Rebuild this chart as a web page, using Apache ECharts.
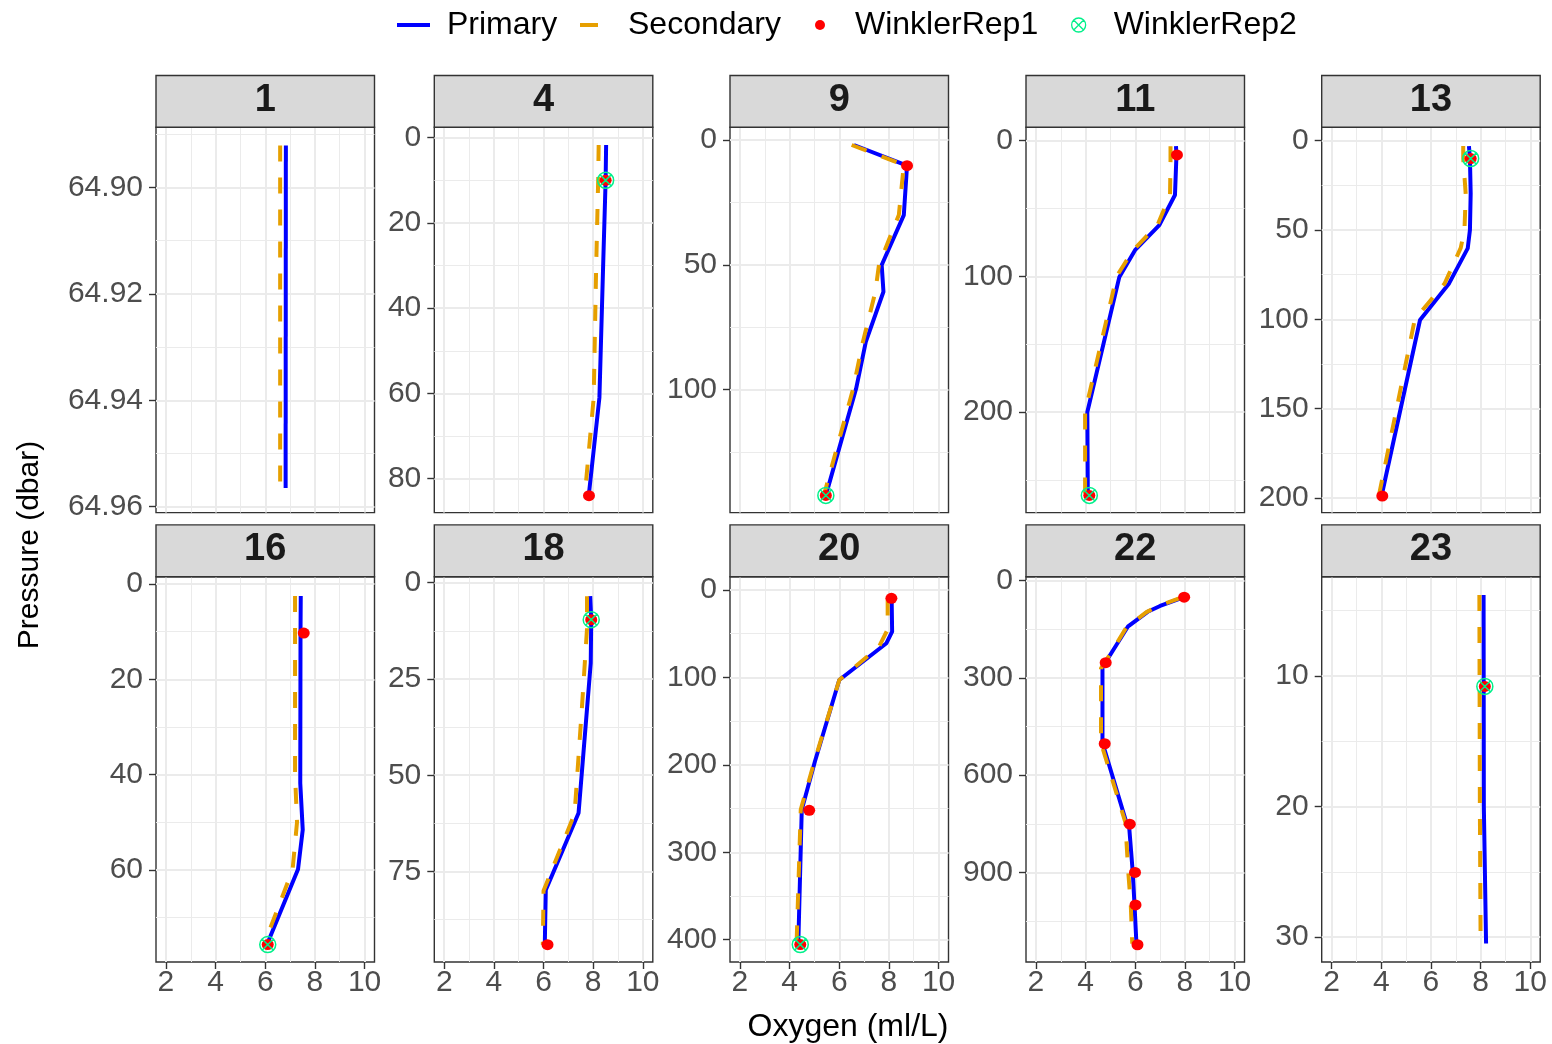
<!DOCTYPE html>
<html>
<head>
<meta charset="utf-8">
<title>Oxygen profiles by station</title>
<script src="https://cdn.jsdelivr.net/npm/echarts@6/dist/echarts.min.js"></script>
<style>
  html, body { margin: 0; padding: 0; background: #ffffff; }
  #chart { width: 1552px; height: 1044px; }
</style>
</head>
<body>
<div id="chart"></div>
<script>
// ---- data ---------------------------------------------------------------
// Station labels, one facet each (2 rows x 5 columns)
const stations = ['1', '4', '9', '11', '13', '16', '18', '20', '22', '23'];

// Oxygen (ml/L) axis, shared by every panel
const oxygenRange = [1.6, 10.4];
const oxygenTicks = [2, 4, 6, 8, 10];

// Pressure (dbar) axis extent and tick labels of each station (free scales, depth downwards)
const pressureRange = [
  [64.8887, 64.9611], [-2.44, 87.98], [-5.09, 149.3], [-9.9, 274.2], [-7.5, 208.2],
  [-1.53, 79.36], [-1.56, 98.5], [-15.2, 425.5], [-12.3, 1176.2], [2.4, 31.91]
];
const pressureTicks = [
  [64.90, 64.92, 64.94, 64.96], [0, 20, 40, 60, 80], [0, 50, 100], [0, 100, 200], [0, 50, 100, 150, 200],
  [0, 20, 40, 60], [0, 25, 50, 75], [0, 100, 200, 300, 400], [0, 300, 600, 900], [10, 20, 30]
];
const pressureTickDecimals = [2, 0, 0, 0, 0, 0, 0, 0, 0, 0];

// Primary sensor profiles: [oxygen, pressure]
const primaryProfiles = [
  [[6.83, 64.8921], [6.82, 64.9565]],
  [[8.52, 1.7], [8.50, 10], [8.40, 30], [8.25, 61], [7.82, 84]],
  [[6.59, 2.0], [8.73, 10.3], [8.60, 30.1], [7.71, 50.1], [7.78, 60.8], [7.07, 80.9], [6.68, 99.6], [5.46, 142.4]],
  [[7.64, 3.9], [7.66, 10.5], [7.60, 40], [6.97, 62.2], [5.99, 80.7], [5.36, 100.4], [4.07, 200], [4.09, 261.5]],
  [[7.53, 3.0], [7.57, 9.9], [7.60, 29.5], [7.57, 50], [7.48, 60.3], [6.73, 79.9], [5.56, 100.4], [4.01, 198.9]],
  [[7.43, 2.5], [7.42, 10.3], [7.41, 41.8], [7.51, 51.6], [7.32, 59.9], [6.07, 75.7]],
  [[7.88, 3.5], [7.92, 9.6], [7.90, 20.9], [7.41, 59.8], [6.09, 79.8], [6.05, 94]],
  [[8.11, 9.5], [8.13, 47.7], [7.90, 60.9], [6.00, 102.9], [5.02, 196.2], [4.49, 251.4], [4.35, 405.7]],
  [[7.97, 51], [7.00, 78], [6.50, 96], [5.70, 142], [4.90, 240], [4.68, 265], [4.68, 500], [5.62, 740], [5.75, 755], [5.90, 900], [5.97, 1000], [6.05, 1123]],
  [[8.12, 3.8], [8.13, 20], [8.22, 30.5]]
];

// Secondary sensor profiles: [oxygen, pressure]
const secondaryProfiles = [
  [[6.60, 64.8921], [6.60, 64.9565]],
  [[8.22, 1.7], [8.20, 10], [8.12, 30], [8.02, 61], [7.66, 84]],
  [[6.50, 2.0], [8.60, 10], [8.40, 30], [7.60, 50], [7.45, 61], [6.95, 81], [6.55, 100], [5.38, 142.4]],
  [[7.42, 4], [7.42, 15], [7.40, 40], [6.90, 62], [5.90, 81], [5.25, 100], [3.98, 200], [3.98, 261.5]],
  [[7.30, 3], [7.30, 10], [7.40, 30], [7.35, 50], [7.20, 60], [6.55, 80], [5.35, 100], [3.90, 198.9]],
  [[7.20, 2.5], [7.20, 40], [7.28, 50], [7.10, 60], [5.95, 75.7]],
  [[7.75, 3.5], [7.75, 12], [7.55, 32], [7.25, 60], [6.00, 80], [5.97, 94]],
  [[7.95, 11], [7.95, 45], [7.60, 65], [6.00, 103], [5.00, 196], [4.45, 251], [4.28, 405.7]],
  [[7.85, 52], [7.00, 76], [6.45, 97], [5.65, 143], [4.72, 260], [4.62, 270], [4.62, 500], [5.60, 745], [5.72, 900], [5.82, 1000], [5.88, 1120]],
  [[7.95, 3.8], [7.97, 20], [8.00, 30.5]]
];

// Winkler titration replicates: [oxygen, pressure]
const winklerRep1 = [
  [],
  [[8.50, 10], [7.83, 84]],
  [[8.73, 10.3], [5.46, 142.4]],
  [[7.68, 10.5], [4.15, 261.5]],
  [[7.60, 10], [4.04, 198.9]],
  [[7.55, 10.3], [6.10, 75.7]],
  [[7.92, 9.6], [6.16, 94]],
  [[8.10, 9.5], [4.79, 252], [4.43, 405.5]],
  [[7.97, 51], [4.81, 253], [4.77, 503], [5.78, 751], [5.99, 900], [6.01, 1000], [6.09, 1123]],
  [[8.17, 10.8]]
];
const winklerRep2 = [
  [],
  [[8.50, 10]],
  [[5.46, 142.4]],
  [[4.15, 261.5]],
  [[7.60, 10]],
  [[6.10, 75.7]],
  [[7.92, 9.6]],
  [[4.43, 405.5]],
  [],
  [[8.17, 10.8]]
];

// ---- layout & style -----------------------------------------------------
const FONT = "'Liberation Sans', Arial, Helvetica, sans-serif";
const colLeft = [156, 434.3, 730, 1026, 1321.7];
const rowTop = [127.3, 576.7];
const panelW = 218.5;
const panelH = 385.3;
const stripH = 51.8;

const COL_PRIMARY = '#0000FF';
const COL_SECONDARY = '#E69F00';
const COL_REP1 = '#FF0000';
const COL_REP2 = '#00F08A';
const GRID_COL = '#EBEBEB';
const BORDER_COL = '#333333';
const AXIS_TEXT = '#4D4D4D';

// circle with a cross through it
const CIRCLE_X = 'path://M0,10 A10,10 0 1,1 20,10 A10,10 0 1,1 0,10 Z M2.93,2.93 L17.07,17.07 M17.07,2.93 L2.93,17.07';

// minor grid positions halfway between major ticks
function midTicks(t) {
  const step = t[1] - t[0];
  const out = [t[0] - step / 2];
  for (let i = 0; i < t.length; i++) out.push(t[i] + step / 2);
  return out;
}

const grids = [], xAxes = [], yAxes = [], series = [], graphics = [];

stations.forEach((st, k) => {
  const col = k % 5, row = Math.floor(k / 5);
  const left = colLeft[col], top = rowTop[row];
  const bottomRow = row === 1;

  grids.push({
    left: left, top: top, width: panelW, height: panelH,
    show: true, backgroundColor: '#ffffff', borderColor: BORDER_COL, borderWidth: 1.4
  });

  // major oxygen axis
  xAxes.push({
    gridIndex: k, type: 'value', min: oxygenRange[0], max: oxygenRange[1], position: 'bottom',
    axisLine: { show: false, onZero: false },
    axisTick: { show: bottomRow, customValues: oxygenTicks, length: 7, lineStyle: { color: BORDER_COL, width: 1.4 } },
    axisLabel: { show: bottomRow, customValues: oxygenTicks, fontSize: 30, color: AXIS_TEXT, margin: 6, fontFamily: FONT },
    splitLine: { show: true, lineStyle: { color: GRID_COL, width: 2 } }
  });
  // minor oxygen grid
  xAxes.push({
    gridIndex: k, type: 'value', min: oxygenRange[0], max: oxygenRange[1], position: 'top',
    axisLine: { show: false, onZero: false },
    axisTick: { show: false, customValues: midTicks(oxygenTicks) },
    axisLabel: { show: false, customValues: midTicks(oxygenTicks) },
    splitLine: { show: true, lineStyle: { color: GRID_COL, width: 1 } }
  });

  const yt = pressureTicks[k];
  const dec = pressureTickDecimals[k];
  yAxes.push({
    gridIndex: k, type: 'value', inverse: true, min: pressureRange[k][0], max: pressureRange[k][1], position: 'left',
    axisLine: { show: false, onZero: false },
    axisTick: { show: true, customValues: yt, length: 7, lineStyle: { color: BORDER_COL, width: 1.4 } },
    axisLabel: {
      show: true, customValues: yt, fontSize: 30, color: AXIS_TEXT, margin: 13, fontFamily: FONT,
      formatter: v => Number(v).toFixed(dec)
    },
    splitLine: { show: true, lineStyle: { color: GRID_COL, width: 2 } }
  });
  yAxes.push({
    gridIndex: k, type: 'value', inverse: true, min: pressureRange[k][0], max: pressureRange[k][1], position: 'right',
    axisLine: { show: false, onZero: false },
    axisTick: { show: false, customValues: midTicks(yt) },
    axisLabel: { show: false, customValues: midTicks(yt) },
    splitLine: { show: true, lineStyle: { color: GRID_COL, width: 1 } }
  });

  const ax = { xAxisIndex: 2 * k, yAxisIndex: 2 * k };
  series.push(Object.assign({
    name: 'Primary', type: 'line', data: primaryProfiles[k], symbol: 'none', showSymbol: false,
    lineStyle: { color: COL_PRIMARY, width: 4 }, itemStyle: { color: COL_PRIMARY }, z: 2, silent: true
  }, ax));
  series.push(Object.assign({
    name: 'Secondary', type: 'line', data: secondaryProfiles[k], symbol: 'none', showSymbol: false,
    lineStyle: { color: COL_SECONDARY, width: 4, type: [16, 16] }, itemStyle: { color: COL_SECONDARY }, z: 3, silent: true
  }, ax));
  series.push(Object.assign({
    name: 'WinklerRep1', type: 'scatter', data: winklerRep1[k], symbol: 'circle', symbolSize: [12, 11],
    itemStyle: { color: COL_REP1, opacity: 1 }, z: 4, silent: true
  }, ax));
  series.push(Object.assign({
    name: 'WinklerRep2', type: 'scatter', data: winklerRep2[k], symbol: CIRCLE_X, symbolSize: 16, symbolKeepAspect: true,
    itemStyle: { color: 'rgba(0,0,0,0)', borderColor: COL_REP2, borderWidth: 1.5, opacity: 1 }, z: 5, silent: true
  }, ax));

  // facet strip with the station label
  graphics.push({
    type: 'rect', silent: true,
    shape: { x: left, y: top - stripH, width: panelW, height: stripH },
    style: { fill: '#D9D9D9', stroke: BORDER_COL, lineWidth: 1.4 }, z: 10
  });
  graphics.push({
    type: 'text', silent: true, x: left + panelW / 2, y: top - stripH / 2 - 1,
    style: { text: st, font: 'bold 38px ' + FONT, fill: '#1A1A1A', textAlign: 'center', textVerticalAlign: 'middle' }, z: 11
  });
});

// shared axis titles
graphics.push({
  type: 'text', silent: true, x: 848, y: 1027,
  style: { text: 'Oxygen (ml/L)', font: '32px ' + FONT, fill: '#000000', textAlign: 'center', textVerticalAlign: 'middle' }
});
graphics.push({
  type: 'text', silent: true, x: 30, y: 545, rotation: Math.PI / 2,
  style: { text: 'Pressure (dbar)', font: '30px ' + FONT, fill: '#000000', textAlign: 'center', textVerticalAlign: 'middle' }
});

// one legend block per key, laid out in a single row
function legendBlock(name, left, w, h, icon, pad, itemStyle) {
  return {
    data: [name], left: left, top: 9, padding: 0, orient: 'horizontal',
    itemWidth: w, itemHeight: h, icon: icon, selectedMode: false,
    itemStyle: itemStyle,
    textStyle: { fontSize: 32, color: '#000000', fontFamily: FONT, padding: [0, 0, 0, pad] }
  };
}
const legends = [
  legendBlock('Primary', 397, 33, 4, 'rect', 12, { color: COL_PRIMARY, borderWidth: 0 }),
  legendBlock('Secondary', 580, 18, 4, 'rect', 25, { color: COL_SECONDARY, borderWidth: 0 }),
  legendBlock('WinklerRep1', 815, 10, 10, 'circle', 25, { color: COL_REP1, borderWidth: 0 }),
  legendBlock('WinklerRep2', 1071, 14, 14, CIRCLE_X, 23, { color: 'rgba(0,0,0,0)', borderColor: COL_REP2, borderWidth: 1.3 })
];

const chart = echarts.init(document.getElementById('chart'), null, { renderer: 'canvas' });
chart.setOption({
  backgroundColor: '#ffffff',
  animation: false,
  textStyle: { fontFamily: FONT },
  legend: legends,
  grid: grids,
  xAxis: xAxes,
  yAxis: yAxes,
  series: series,
  graphic: graphics
});
</script>
</body>
</html>
